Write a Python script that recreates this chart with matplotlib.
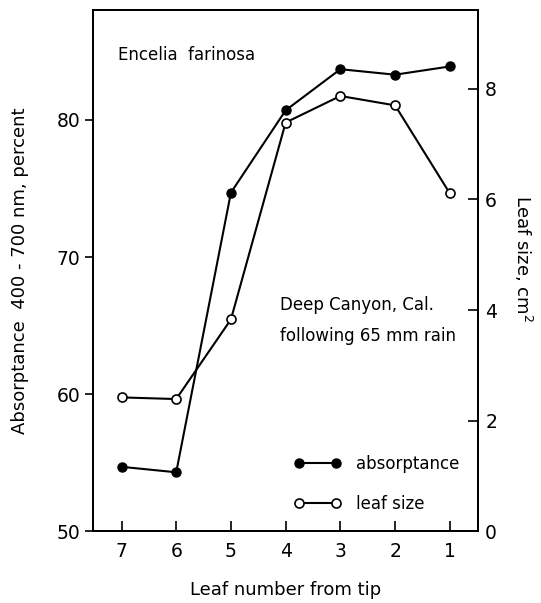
import matplotlib
matplotlib.use("Agg")
import matplotlib.pyplot as plt
from matplotlib.ticker import FixedLocator

leaf_number = [7, 6, 5, 4, 3, 2, 1]
absorptance = [54.7, 54.3, 74.7, 80.7, 83.7, 83.3, 83.9]
leaf_size = [2.42, 2.39, 3.83, 7.39, 7.87, 7.70, 6.11]
left_ticks = [50, 60, 70, 80]
right_ticks = [0, 2, 4, 6, 8]

plt.rcParams['font.family'] = ['DejaVu Sans']
fig = plt.figure(figsize=(5.41, 6.03), dpi=100)
ax = fig.add_axes([0.172, 0.119, 0.712, 0.864])
ax2 = ax.twinx()

lw = 1.5
l1, = ax.plot(leaf_number, absorptance, '-o', color='black', lw=lw,
              markersize=6.5, markerfacecolor='black', zorder=3, label='absorptance')
l2, = ax2.plot(leaf_number, leaf_size, '-o', color='black', lw=lw,
               markersize=6.5, markerfacecolor='white', markeredgewidth=1.2,
               zorder=3, label='leaf size')

ax.set_xlim(7.52, 0.48)
ax.set_ylim(50, 88)
ax2.set_ylim(0, 9.42)

ax.xaxis.set_major_locator(FixedLocator(leaf_number))
ax.yaxis.set_major_locator(FixedLocator(left_ticks))
ax2.yaxis.set_major_locator(FixedLocator(right_ticks))

for a in (ax, ax2):
    for s in a.spines.values():
        s.set_linewidth(1.4)

ax.tick_params(axis='x', direction='in', length=7, width=1.2, labelsize=13.5, pad=8)
ax.tick_params(axis='y', direction='out', length=6, width=1.2, labelsize=13.5, pad=3)
ax2.tick_params(axis='y', direction='in', length=7, width=1.2, labelsize=13.5, pad=5)

ax.set_xlabel('Leaf number from tip', fontsize=13, labelpad=14)
ax.set_ylabel('Absorptance  400 - 700 nm, percent', fontsize=13, labelpad=20)
ax2.set_ylabel('Leaf size, cm$^2$', fontsize=13, rotation=270)
ax2.yaxis.set_label_coords(1.145, 0.524)

ax.text(0.065, 0.915, 'Encelia  farinosa', transform=ax.transAxes,
        fontsize=12, va='center', ha='left')
ax.text(0.485, 0.435, 'Deep Canyon, Cal.', transform=ax.transAxes,
        fontsize=12, va='center', ha='left')
ax.text(0.485, 0.374, 'following 65 mm rain', transform=ax.transAxes,
        fontsize=12, va='center', ha='left')

leg = ax.legend(handles=[l1, l2], loc='lower left', bbox_to_anchor=(0.484, 0.007),
                frameon=False, numpoints=2, handlelength=2.8, fontsize=12,
                labelspacing=1.3, handletextpad=0.9)

fig.savefig('out.png', dpi=100)
